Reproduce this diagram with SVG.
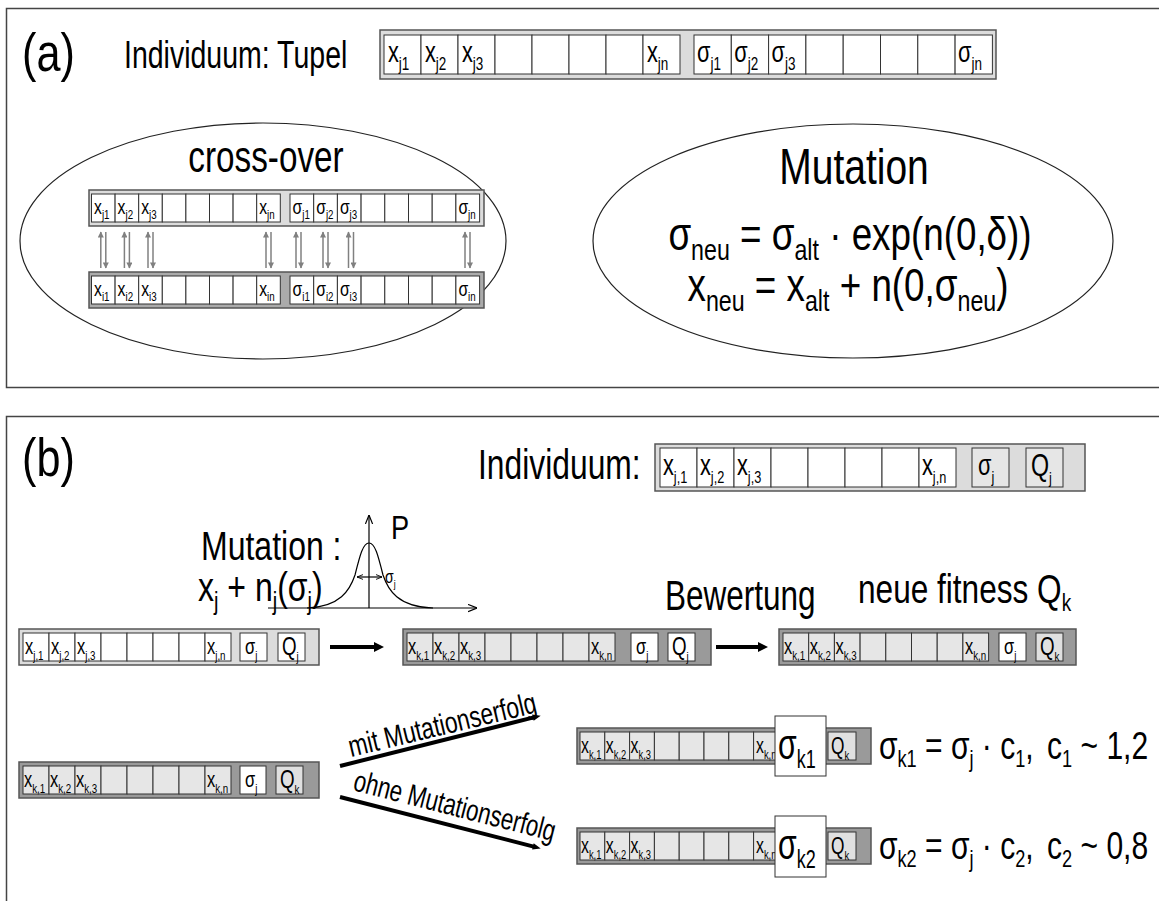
<svg xmlns="http://www.w3.org/2000/svg" width="1159" height="901" viewBox="0 0 1159 901">
<style>
.f{font-family:"Liberation Sans",Arial,Helvetica,sans-serif;fill:#000}
.frame{fill:none;stroke:#444;stroke-width:1.5}
.ell{fill:#fff;stroke:#222;stroke-width:1.2}
.oL{fill:#dcdcdc;stroke:#555;stroke-width:1.5}
.oD{fill:#9a9a9a;stroke:#555;stroke-width:1.5}
.oM{fill:#ababab;stroke:#555;stroke-width:1.5}
.cw{fill:#fff;stroke:#333;stroke-width:1}
.cg{fill:#e6e6e6;stroke:#333;stroke-width:1}
.cq{fill:#e0e0e0;stroke:#333;stroke-width:1}
.xa{stroke:#808080;stroke-width:1.5;fill:none}
.bold{stroke:#000;stroke-width:4;fill:none}
.ax{stroke:#000;stroke-width:1.2;fill:none}
</style>
<defs>
<marker id="ahg" viewBox="0 0 10 10" refX="9" refY="5" markerWidth="7" markerHeight="6" markerUnits="userSpaceOnUse" orient="auto"><path d="M0,0 L10,5 L0,10 z" fill="#808080"/></marker>
<marker id="ahb" viewBox="0 0 10 10" refX="1" refY="5" markerWidth="11" markerHeight="10" markerUnits="userSpaceOnUse" orient="auto"><path d="M0,0 L10,5 L0,10 z" fill="#000"/></marker>
<marker id="ahl" viewBox="0 0 10 10" refX="1" refY="5" markerWidth="22" markerHeight="8" markerUnits="userSpaceOnUse" orient="auto"><path d="M0,1 L10,5 L0,9 z" fill="#000"/></marker>
<marker id="aho" viewBox="0 0 10 10" refX="10" refY="5" markerWidth="9" markerHeight="9" markerUnits="userSpaceOnUse" orient="auto"><path d="M0,1 L10,5 L0,9" fill="none" stroke="#000" stroke-width="1.3"/></marker>
<marker id="ahs" viewBox="0 0 10 10" refX="10" refY="5" markerWidth="6" markerHeight="6" markerUnits="userSpaceOnUse" orient="auto-start-reverse"><path d="M0,1 L10,5 L0,9" fill="none" stroke="#000" stroke-width="1.5"/></marker>
</defs>

<g id="panel-a">
<rect class="frame" x="6.5" y="8.5" width="1160" height="379"/>
<text class="f" font-size="54" transform="translate(22,71) scale(.8,1)">(a)</text>
<text class="f" font-size="38" transform="translate(124,68) scale(.75,1)">Individuum: Tupel</text>
</g>

<g id="tuple-a">
<rect class="oL" x="380" y="30" width="616" height="49"/>
<rect class="cw" x="384" y="35" width="37" height="39"/>
<rect class="cw" x="421" y="35" width="37" height="39"/>
<rect class="cw" x="458" y="35" width="37" height="39"/>
<rect class="cw" x="495" y="35" width="37" height="39"/>
<rect class="cw" x="532" y="35" width="37" height="39"/>
<rect class="cw" x="569" y="35" width="37" height="39"/>
<rect class="cw" x="606" y="35" width="37" height="39"/>
<rect class="cw" x="643" y="35" width="37" height="39"/>
<rect class="cw" x="694" y="35" width="37.3" height="39"/>
<rect class="cw" x="731.3" y="35" width="37.3" height="39"/>
<rect class="cw" x="768.6" y="35" width="37.3" height="39"/>
<rect class="cw" x="805.9" y="35" width="37.3" height="39"/>
<rect class="cw" x="843.2" y="35" width="37.3" height="39"/>
<rect class="cw" x="880.5" y="35" width="37.3" height="39"/>
<rect class="cw" x="917.8" y="35" width="37.3" height="39"/>
<rect class="cw" x="955.1" y="35" width="37.3" height="39"/>
<text class="f" font-size="29" transform="translate(388,62) scale(.75,1)">x<tspan font-size="18" dy="8">j1</tspan></text>
<text class="f" font-size="29" transform="translate(425,62) scale(.75,1)">x<tspan font-size="18" dy="8">j2</tspan></text>
<text class="f" font-size="29" transform="translate(462,62) scale(.75,1)">x<tspan font-size="18" dy="8">j3</tspan></text>
<text class="f" font-size="29" transform="translate(647,62) scale(.75,1)">x<tspan font-size="18" dy="8">jn</tspan></text>
<text class="f" font-size="29" transform="translate(697,62) scale(.75,1)">σ<tspan font-size="18" dy="8">j1</tspan></text>
<text class="f" font-size="29" transform="translate(734.3,62) scale(.75,1)">σ<tspan font-size="18" dy="8">j2</tspan></text>
<text class="f" font-size="29" transform="translate(771.6,62) scale(.75,1)">σ<tspan font-size="18" dy="8">j3</tspan></text>
<text class="f" font-size="29" transform="translate(958.1,62) scale(.75,1)">σ<tspan font-size="18" dy="8">jn</tspan></text>
</g>

<g id="crossover">
<ellipse class="ell" cx="263" cy="241" rx="243" ry="118"/>
<text class="f" font-size="45" text-anchor="middle" transform="translate(266,172) scale(.74,1)">cross-over</text>
<rect class="oL" x="89" y="190" width="395" height="36"/>
<rect class="cw" x="91.5" y="194" width="23.6" height="28"/>
<rect class="cw" x="115.1" y="194" width="23.6" height="28"/>
<rect class="cw" x="138.7" y="194" width="23.6" height="28"/>
<rect class="cw" x="162.3" y="194" width="23.6" height="28"/>
<rect class="cw" x="185.9" y="194" width="23.6" height="28"/>
<rect class="cw" x="209.5" y="194" width="23.6" height="28"/>
<rect class="cw" x="233.1" y="194" width="23.6" height="28"/>
<rect class="cw" x="256.7" y="194" width="23.6" height="28"/>
<rect class="cw" x="290" y="194" width="23.7" height="28"/>
<rect class="cw" x="313.7" y="194" width="23.7" height="28"/>
<rect class="cw" x="337.4" y="194" width="23.7" height="28"/>
<rect class="cw" x="361.1" y="194" width="23.7" height="28"/>
<rect class="cw" x="384.8" y="194" width="23.7" height="28"/>
<rect class="cw" x="408.5" y="194" width="23.7" height="28"/>
<rect class="cw" x="432.2" y="194" width="23.7" height="28"/>
<rect class="cw" x="455.9" y="194" width="23.7" height="28"/>
<text class="f" font-size="21" transform="translate(94,214) scale(.75,1)">x<tspan font-size="13" dy="5">j1</tspan></text>
<text class="f" font-size="21" transform="translate(117.6,214) scale(.75,1)">x<tspan font-size="13" dy="5">j2</tspan></text>
<text class="f" font-size="21" transform="translate(141.2,214) scale(.75,1)">x<tspan font-size="13" dy="5">j3</tspan></text>
<text class="f" font-size="21" transform="translate(259.2,214) scale(.75,1)">x<tspan font-size="13" dy="5">jn</tspan></text>
<text class="f" font-size="21" transform="translate(292.5,214) scale(.75,1)">σ<tspan font-size="13" dy="5">j1</tspan></text>
<text class="f" font-size="21" transform="translate(316.2,214) scale(.75,1)">σ<tspan font-size="13" dy="5">j2</tspan></text>
<text class="f" font-size="21" transform="translate(339.9,214) scale(.75,1)">σ<tspan font-size="13" dy="5">j3</tspan></text>
<text class="f" font-size="21" transform="translate(458.4,214) scale(.75,1)">σ<tspan font-size="13" dy="5">jn</tspan></text>
<rect class="oM" x="89" y="272" width="395" height="36"/>
<rect class="cw" x="91.5" y="276" width="23.6" height="28"/>
<rect class="cw" x="115.1" y="276" width="23.6" height="28"/>
<rect class="cw" x="138.7" y="276" width="23.6" height="28"/>
<rect class="cw" x="162.3" y="276" width="23.6" height="28"/>
<rect class="cw" x="185.9" y="276" width="23.6" height="28"/>
<rect class="cw" x="209.5" y="276" width="23.6" height="28"/>
<rect class="cw" x="233.1" y="276" width="23.6" height="28"/>
<rect class="cw" x="256.7" y="276" width="23.6" height="28"/>
<rect class="cw" x="290" y="276" width="23.7" height="28"/>
<rect class="cw" x="313.7" y="276" width="23.7" height="28"/>
<rect class="cw" x="337.4" y="276" width="23.7" height="28"/>
<rect class="cw" x="361.1" y="276" width="23.7" height="28"/>
<rect class="cw" x="384.8" y="276" width="23.7" height="28"/>
<rect class="cw" x="408.5" y="276" width="23.7" height="28"/>
<rect class="cw" x="432.2" y="276" width="23.7" height="28"/>
<rect class="cw" x="455.9" y="276" width="23.7" height="28"/>
<text class="f" font-size="21" transform="translate(94,296) scale(.75,1)">x<tspan font-size="13" dy="5">i1</tspan></text>
<text class="f" font-size="21" transform="translate(117.6,296) scale(.75,1)">x<tspan font-size="13" dy="5">i2</tspan></text>
<text class="f" font-size="21" transform="translate(141.2,296) scale(.75,1)">x<tspan font-size="13" dy="5">i3</tspan></text>
<text class="f" font-size="21" transform="translate(259.2,296) scale(.75,1)">x<tspan font-size="13" dy="5">in</tspan></text>
<text class="f" font-size="21" transform="translate(292.5,296) scale(.75,1)">σ<tspan font-size="13" dy="5">i1</tspan></text>
<text class="f" font-size="21" transform="translate(316.2,296) scale(.75,1)">σ<tspan font-size="13" dy="5">i2</tspan></text>
<text class="f" font-size="21" transform="translate(339.9,296) scale(.75,1)">σ<tspan font-size="13" dy="5">i3</tspan></text>
<text class="f" font-size="21" transform="translate(458.4,296) scale(.75,1)">σ<tspan font-size="13" dy="5">in</tspan></text>
</g>

<g id="mutation-a">
<ellipse class="ell" cx="853" cy="241" rx="260" ry="117"/>
<text class="f" font-size="50" text-anchor="middle" transform="translate(854,184) scale(.78,1)">Mutation</text>
<text class="f" font-size="46" text-anchor="middle" transform="translate(850,250) scale(.8,1)">σ<tspan font-size="29" dy="10">neu</tspan><tspan dy="-10"> = σ</tspan><tspan font-size="29" dy="10">alt</tspan><tspan dy="-10"> · exp(n(0,δ))</tspan></text>
<text class="f" font-size="46" text-anchor="middle" transform="translate(848,301) scale(.8,1)">x<tspan font-size="29" dy="10">neu</tspan><tspan dy="-10"> = x</tspan><tspan font-size="29" dy="10">alt</tspan><tspan dy="-10"> + n(0,σ</tspan><tspan font-size="29" dy="10">neu</tspan><tspan dy="-10">)</tspan></text>
</g>

<g id="panel-b">
<rect class="frame" x="6.5" y="416.5" width="1160" height="500"/>
<text class="f" font-size="54" transform="translate(22,476) scale(.8,1)">(b)</text>
<text class="f" font-size="43" transform="translate(478,479) scale(.74,1)">Individuum:</text>
</g>

<g id="tuple-b">
<rect class="oL" x="655" y="444" width="430" height="47"/>
<rect class="cw" x="660" y="448" width="37" height="39"/>
<rect class="cw" x="697" y="448" width="37" height="39"/>
<rect class="cw" x="734" y="448" width="37" height="39"/>
<rect class="cw" x="771" y="448" width="37" height="39"/>
<rect class="cw" x="808" y="448" width="37" height="39"/>
<rect class="cw" x="845" y="448" width="37" height="39"/>
<rect class="cw" x="882" y="448" width="37" height="39"/>
<rect class="cw" x="919" y="448" width="37" height="39"/>
<rect class="cg" x="972" y="448" width="37" height="39"/>
<rect class="cg" x="1026" y="448" width="37" height="39"/>
<text class="f" font-size="29" transform="translate(663,475) scale(.75,1)">x<tspan font-size="17" dy="8">j,1</tspan></text>
<text class="f" font-size="29" transform="translate(700,475) scale(.75,1)">x<tspan font-size="17" dy="8">j,2</tspan></text>
<text class="f" font-size="29" transform="translate(737,475) scale(.75,1)">x<tspan font-size="17" dy="8">j,3</tspan></text>
<text class="f" font-size="29" transform="translate(922,475) scale(.75,1)">x<tspan font-size="17" dy="8">j,n</tspan></text>
<text class="f" font-size="29" transform="translate(978,475) scale(.75,1)">σ<tspan font-size="17" dy="8">j</tspan></text>
<text class="f" font-size="31" transform="translate(1031,476) scale(.75,1)">Q<tspan font-size="17" dy="8">j</tspan></text>
</g>

<g id="gauss">
<text class="f" font-size="40" transform="translate(201,560) scale(.8,1)">Mutation :</text>
<text class="f" font-size="40" transform="translate(198,601) scale(.8,1)">x<tspan font-size="25" dy="9">j</tspan><tspan dy="-9"> + n</tspan><tspan font-size="25" dy="9">j</tspan><tspan dy="-9">(σ</tspan><tspan font-size="25" dy="9">j</tspan><tspan dy="-9">)</tspan></text>
<line class="ax" x1="268" y1="608" x2="477" y2="608" marker-end="url(#aho)"/>
<line class="ax" x1="369" y1="608" x2="369" y2="515" marker-end="url(#aho)"/>
<path class="ax" d="M307,608 C340,607 350,590 355,575 C360,555 363,543 369,543 C375,543 378,555 383,575 C388,590 398,607 433,608"/>
<line class="ax" x1="357" y1="577" x2="382" y2="577" marker-start="url(#ahs)" marker-end="url(#ahs)"/>
<text class="f" font-size="18" transform="translate(385,583) scale(.78,1)">σ<tspan font-size="11" dy="5">j</tspan></text>
<text class="f" font-size="34" transform="translate(391,539) scale(.8,1)">P</text>
</g>

<g id="row-a">
<rect class="oL" x="19" y="629" width="300" height="36"/>
<rect class="cw" x="23" y="633" width="26" height="28"/>
<rect class="cw" x="49" y="633" width="26" height="28"/>
<rect class="cw" x="75" y="633" width="26" height="28"/>
<rect class="cw" x="101" y="633" width="26" height="28"/>
<rect class="cw" x="127" y="633" width="26" height="28"/>
<rect class="cw" x="153" y="633" width="26" height="28"/>
<rect class="cw" x="179" y="633" width="26" height="28"/>
<rect class="cw" x="205" y="633" width="26" height="28"/>
<rect class="cw" x="240" y="633" width="27" height="28"/>
<rect class="cw" x="278" y="633" width="27" height="28"/>
<text class="f" font-size="22" transform="translate(25,654) scale(.75,1)">x<tspan font-size="13" dy="6">j,1</tspan></text>
<text class="f" font-size="22" transform="translate(51,654) scale(.75,1)">x<tspan font-size="13" dy="6">j,2</tspan></text>
<text class="f" font-size="22" transform="translate(77,654) scale(.75,1)">x<tspan font-size="13" dy="6">j,3</tspan></text>
<text class="f" font-size="22" transform="translate(207,654) scale(.75,1)">x<tspan font-size="13" dy="6">j,n</tspan></text>
<text class="f" font-size="22" transform="translate(245,654) scale(.75,1)">σ<tspan font-size="13" dy="6">j</tspan></text>
<text class="f" font-size="25" transform="translate(282,655) scale(.75,1)">Q<tspan font-size="13" dy="6">j</tspan></text>
</g>

<g id="row-b">
<rect class="oD" x="403" y="629" width="308" height="36"/>
<rect class="cg" x="407" y="633" width="26" height="28"/>
<rect class="cg" x="433" y="633" width="26" height="28"/>
<rect class="cg" x="459" y="633" width="26" height="28"/>
<rect class="cg" x="485" y="633" width="26" height="28"/>
<rect class="cg" x="511" y="633" width="26" height="28"/>
<rect class="cg" x="537" y="633" width="26" height="28"/>
<rect class="cg" x="563" y="633" width="26" height="28"/>
<rect class="cg" x="589" y="633" width="26" height="28"/>
<rect class="cw" x="631" y="633" width="27" height="28"/>
<rect class="cw" x="668" y="633" width="27" height="28"/>
<text class="f" font-size="22" transform="translate(408,654) scale(.75,1)">x<tspan font-size="13" dy="6">k,1</tspan></text>
<text class="f" font-size="22" transform="translate(434,654) scale(.75,1)">x<tspan font-size="13" dy="6">k,2</tspan></text>
<text class="f" font-size="22" transform="translate(460,654) scale(.75,1)">x<tspan font-size="13" dy="6">k,3</tspan></text>
<text class="f" font-size="22" transform="translate(591,654) scale(.75,1)">x<tspan font-size="13" dy="6">k,n</tspan></text>
<text class="f" font-size="22" transform="translate(636,654) scale(.75,1)">σ<tspan font-size="13" dy="6">j</tspan></text>
<text class="f" font-size="25" transform="translate(672,655) scale(.75,1)">Q<tspan font-size="13" dy="6">j</tspan></text>
</g>

<g id="row-c">
<text class="f" font-size="42" transform="translate(665,610) scale(.75,1)">Bewertung</text>
<text class="f" font-size="40" transform="translate(858,603) scale(.79,1)">neue fitness Q<tspan font-size="24" dy="8">k</tspan></text>
<rect class="oD" x="779" y="629" width="297" height="36"/>
<rect class="cg" x="783" y="633" width="25.7" height="28"/>
<rect class="cg" x="808.7" y="633" width="25.7" height="28"/>
<rect class="cg" x="834.4" y="633" width="25.7" height="28"/>
<rect class="cg" x="860.1" y="633" width="25.7" height="28"/>
<rect class="cg" x="885.8" y="633" width="25.7" height="28"/>
<rect class="cg" x="911.5" y="633" width="25.7" height="28"/>
<rect class="cg" x="937.2" y="633" width="25.7" height="28"/>
<rect class="cg" x="962.9" y="633" width="25.7" height="28"/>
<rect class="cw" x="999" y="633" width="27" height="28"/>
<rect class="cq" x="1036" y="633" width="27" height="28"/>
<text class="f" font-size="22" transform="translate(784,654) scale(.75,1)">x<tspan font-size="13" dy="6">k,1</tspan></text>
<text class="f" font-size="22" transform="translate(809.7,654) scale(.75,1)">x<tspan font-size="13" dy="6">k,2</tspan></text>
<text class="f" font-size="22" transform="translate(835.4,654) scale(.75,1)">x<tspan font-size="13" dy="6">k,3</tspan></text>
<text class="f" font-size="22" transform="translate(964.9,654) scale(.75,1)">x<tspan font-size="13" dy="6">k,n</tspan></text>
<text class="f" font-size="22" transform="translate(1004,654) scale(.75,1)">σ<tspan font-size="13" dy="6">j</tspan></text>
<text class="f" font-size="25" transform="translate(1040,655) scale(.75,1)">Q<tspan font-size="13" dy="6">k</tspan></text>
</g>

<g id="row-d">
<rect class="oD" x="19" y="762" width="300" height="36"/>
<rect class="cg" x="23" y="766" width="26" height="28"/>
<rect class="cg" x="49" y="766" width="26" height="28"/>
<rect class="cg" x="75" y="766" width="26" height="28"/>
<rect class="cg" x="101" y="766" width="26" height="28"/>
<rect class="cg" x="127" y="766" width="26" height="28"/>
<rect class="cg" x="153" y="766" width="26" height="28"/>
<rect class="cg" x="179" y="766" width="26" height="28"/>
<rect class="cg" x="205" y="766" width="26" height="28"/>
<rect class="cw" x="240" y="766" width="26" height="28"/>
<rect class="cq" x="276" y="766" width="27" height="28"/>
<text class="f" font-size="22" transform="translate(24,787) scale(.75,1)">x<tspan font-size="13" dy="6">k,1</tspan></text>
<text class="f" font-size="22" transform="translate(50,787) scale(.75,1)">x<tspan font-size="13" dy="6">k,2</tspan></text>
<text class="f" font-size="22" transform="translate(76,787) scale(.75,1)">x<tspan font-size="13" dy="6">k,3</tspan></text>
<text class="f" font-size="22" transform="translate(207,787) scale(.75,1)">x<tspan font-size="13" dy="6">k,n</tspan></text>
<text class="f" font-size="22" transform="translate(245,787) scale(.75,1)">σ<tspan font-size="13" dy="6">j</tspan></text>
<text class="f" font-size="25" transform="translate(280,788) scale(.75,1)">Q<tspan font-size="13" dy="6">k</tspan></text>
</g>

<g id="row-e">
<rect class="oD" x="577" y="728" width="294" height="36"/>
<rect class="cg" x="580" y="732" width="24.8" height="28"/>
<rect class="cg" x="604.8" y="732" width="24.8" height="28"/>
<rect class="cg" x="629.6" y="732" width="24.8" height="28"/>
<rect class="cg" x="654.4" y="732" width="24.8" height="28"/>
<rect class="cg" x="679.2" y="732" width="24.8" height="28"/>
<rect class="cg" x="704" y="732" width="24.8" height="28"/>
<rect class="cg" x="728.8" y="732" width="24.8" height="28"/>
<rect class="cg" x="753.6" y="732" width="24.8" height="28"/>
<rect class="cq" x="828" y="732" width="28" height="28"/>
<text class="f" font-size="22" transform="translate(581,753) scale(.72,1)">x<tspan font-size="13" dy="6">k,1</tspan></text>
<text class="f" font-size="22" transform="translate(605.8,753) scale(.72,1)">x<tspan font-size="13" dy="6">k,2</tspan></text>
<text class="f" font-size="22" transform="translate(630.6,753) scale(.72,1)">x<tspan font-size="13" dy="6">k,3</tspan></text>
<text class="f" font-size="22" transform="translate(756,753) scale(.72,1)">x<tspan font-size="13" dy="6">k,n</tspan></text>
<rect class="cw" x="775" y="716" width="51" height="60"/>
<text class="f" font-size="42" transform="translate(778,759) scale(.72,1)">σ<tspan font-size="25" dy="9">k1</tspan></text>
<text class="f" font-size="24" transform="translate(831,754) scale(.72,1)">Q<tspan font-size="13" dy="6">k</tspan></text>
<text class="f" font-size="38" transform="translate(879,759) scale(.79,1)">σ<tspan font-size="23" dy="8">k1</tspan><tspan dy="-8"> = σ</tspan><tspan font-size="23" dy="8">j</tspan><tspan dy="-8"> · c</tspan><tspan font-size="23" dy="8">1</tspan><tspan dy="-8">,</tspan><tspan dx="17">c</tspan><tspan font-size="23" dy="8">1</tspan><tspan dy="-8"> ~ 1,2</tspan></text>
</g>

<g id="row-f">
<rect class="oD" x="577" y="828" width="294" height="36"/>
<rect class="cg" x="580" y="832" width="24.8" height="28"/>
<rect class="cg" x="604.8" y="832" width="24.8" height="28"/>
<rect class="cg" x="629.6" y="832" width="24.8" height="28"/>
<rect class="cg" x="654.4" y="832" width="24.8" height="28"/>
<rect class="cg" x="679.2" y="832" width="24.8" height="28"/>
<rect class="cg" x="704" y="832" width="24.8" height="28"/>
<rect class="cg" x="728.8" y="832" width="24.8" height="28"/>
<rect class="cg" x="753.6" y="832" width="24.8" height="28"/>
<rect class="cq" x="828" y="832" width="28" height="28"/>
<text class="f" font-size="22" transform="translate(581,853) scale(.72,1)">x<tspan font-size="13" dy="6">k,1</tspan></text>
<text class="f" font-size="22" transform="translate(605.8,853) scale(.72,1)">x<tspan font-size="13" dy="6">k,2</tspan></text>
<text class="f" font-size="22" transform="translate(630.6,853) scale(.72,1)">x<tspan font-size="13" dy="6">k,3</tspan></text>
<text class="f" font-size="22" transform="translate(756,853) scale(.72,1)">x<tspan font-size="13" dy="6">k,n</tspan></text>
<rect class="cw" x="775" y="816" width="51" height="61"/>
<text class="f" font-size="42" transform="translate(778,859) scale(.72,1)">σ<tspan font-size="25" dy="9">k2</tspan></text>
<text class="f" font-size="24" transform="translate(831,854) scale(.72,1)">Q<tspan font-size="13" dy="6">k</tspan></text>
<text class="f" font-size="38" transform="translate(879,859) scale(.79,1)">σ<tspan font-size="23" dy="8">k2</tspan><tspan dy="-8"> = σ</tspan><tspan font-size="23" dy="8">j</tspan><tspan dy="-8"> · c</tspan><tspan font-size="23" dy="8">2</tspan><tspan dy="-8">,</tspan><tspan dx="17">c</tspan><tspan font-size="23" dy="8">2</tspan><tspan dy="-8"> ~ 0,8</tspan></text>
</g>

<g id="connectors">
<line class="xa" x1="100.8" y1="268" x2="100.8" y2="232" marker-end="url(#ahg)"/>
<line class="xa" x1="105.8" y1="232" x2="105.8" y2="268" marker-end="url(#ahg)"/>
<line class="xa" x1="124.4" y1="268" x2="124.4" y2="232" marker-end="url(#ahg)"/>
<line class="xa" x1="129.4" y1="232" x2="129.4" y2="268" marker-end="url(#ahg)"/>
<line class="xa" x1="148" y1="268" x2="148" y2="232" marker-end="url(#ahg)"/>
<line class="xa" x1="153" y1="232" x2="153" y2="268" marker-end="url(#ahg)"/>
<line class="xa" x1="266" y1="268" x2="266" y2="232" marker-end="url(#ahg)"/>
<line class="xa" x1="271" y1="232" x2="271" y2="268" marker-end="url(#ahg)"/>
<line class="xa" x1="296" y1="268" x2="296" y2="232" marker-end="url(#ahg)"/>
<line class="xa" x1="301" y1="232" x2="301" y2="268" marker-end="url(#ahg)"/>
<line class="xa" x1="323" y1="268" x2="323" y2="232" marker-end="url(#ahg)"/>
<line class="xa" x1="328" y1="232" x2="328" y2="268" marker-end="url(#ahg)"/>
<line class="xa" x1="348.5" y1="268" x2="348.5" y2="232" marker-end="url(#ahg)"/>
<line class="xa" x1="353.5" y1="232" x2="353.5" y2="268" marker-end="url(#ahg)"/>
<line class="xa" x1="465" y1="268" x2="465" y2="232" marker-end="url(#ahg)"/>
<line class="xa" x1="470" y1="232" x2="470" y2="268" marker-end="url(#ahg)"/>
<line class="bold" x1="330" y1="647" x2="375" y2="647" marker-end="url(#ahb)"/>
<line class="bold" x1="716" y1="647" x2="759" y2="647" marker-end="url(#ahb)"/>
<line class="bold" x1="340" y1="766" x2="533.7" y2="717.4" marker-end="url(#ahl)"/>
<line class="bold" x1="340" y1="797" x2="533.7" y2="846.6" marker-end="url(#ahl)"/>
<text class="f" font-size="30" transform="translate(351,757) rotate(-13.5) scale(.76,1)">mit Mutationserfolg</text>
<text class="f" font-size="30" transform="translate(352,790) rotate(14.3) scale(.74,1)">ohne Mutationserfolg</text>
</g>
</svg>
